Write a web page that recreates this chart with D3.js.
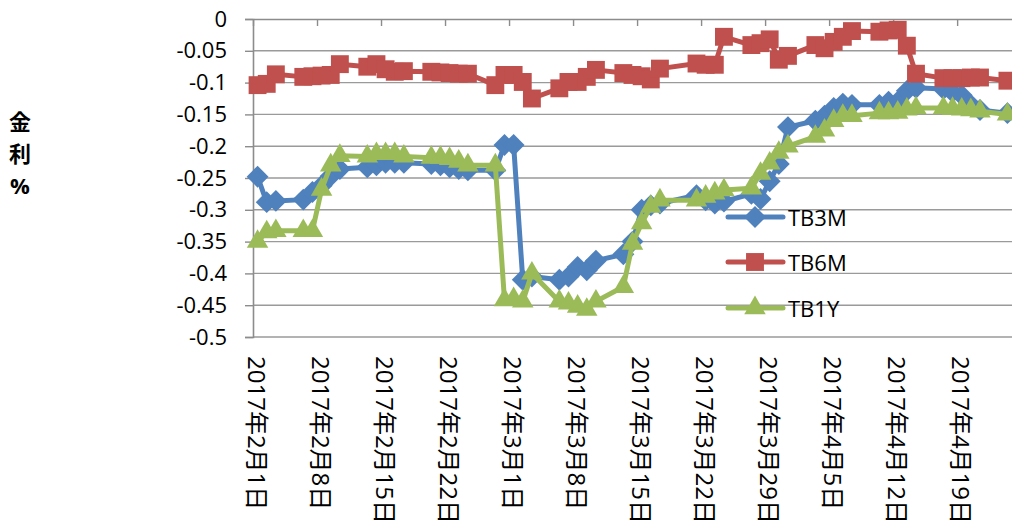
<!DOCTYPE html>
<html>
<head>
<meta charset="utf-8">
<script src="https://cdn.jsdelivr.net/npm/d3@7"></script>
<style>
  html, body { margin: 0; padding: 0; background: #fff; }
  svg { display: block; }
  text { font-family: "Open Sans", "Noto Sans CJK JP", sans-serif; fill: #000; }
</style>
</head>
<body>
<svg id="chart" width="1012" height="524"></svg>
<script>
const dates = ["2017-02-01","2017-02-02","2017-02-03","2017-02-06","2017-02-07","2017-02-08","2017-02-09","2017-02-10",
  "2017-02-13","2017-02-14","2017-02-15","2017-02-16","2017-02-17","2017-02-20","2017-02-21","2017-02-22","2017-02-23","2017-02-24",
  "2017-02-27","2017-02-28","2017-03-01","2017-03-02","2017-03-03","2017-03-06","2017-03-07","2017-03-08","2017-03-09","2017-03-10",
  "2017-03-13","2017-03-14","2017-03-15","2017-03-16","2017-03-17","2017-03-21","2017-03-22","2017-03-23","2017-03-24",
  "2017-03-27","2017-03-28","2017-03-29","2017-03-30","2017-03-31","2017-04-03","2017-04-04","2017-04-05","2017-04-06","2017-04-07",
  "2017-04-10","2017-04-11","2017-04-12","2017-04-13","2017-04-14","2017-04-17","2017-04-18","2017-04-19","2017-04-20","2017-04-21","2017-04-24"];

const seriesNames = ["TB3M", "TB6M", "TB1Y"];

const tb3m = [-0.248,-0.288,-0.286,-0.284,-0.272,-0.262,-0.247,-0.236,
  -0.233,-0.230,-0.226,-0.226,-0.226,-0.228,-0.230,-0.233,-0.236,-0.238,
  -0.238,-0.198,-0.198,-0.410,-0.405,-0.410,-0.405,-0.390,-0.395,-0.380,
  -0.370,-0.350,-0.300,-0.293,-0.290,-0.277,-0.285,-0.290,-0.287,
  -0.275,-0.283,-0.255,-0.228,-0.170,-0.160,-0.152,-0.140,-0.133,-0.135,
  -0.135,-0.130,-0.130,-0.113,-0.108,-0.110,-0.115,-0.120,-0.135,-0.143,-0.148];

const tb6m = [-0.104,-0.102,-0.087,-0.091,-0.090,-0.089,-0.088,-0.071,
  -0.075,-0.071,-0.079,-0.083,-0.082,-0.083,-0.084,-0.085,-0.086,-0.086,
  -0.104,-0.088,-0.088,-0.099,-0.125,-0.109,-0.099,-0.099,-0.091,-0.080,
  -0.085,-0.088,-0.090,-0.095,-0.078,-0.070,-0.072,-0.072,-0.028,
  -0.041,-0.038,-0.032,-0.064,-0.058,-0.041,-0.046,-0.036,-0.028,-0.019,
  -0.020,-0.018,-0.017,-0.042,-0.086,-0.093,-0.093,-0.093,-0.092,-0.092,-0.097];

const tb1y = [-0.350,-0.335,-0.333,-0.333,-0.333,-0.268,-0.230,-0.215,
  -0.216,-0.212,-0.212,-0.212,-0.216,-0.218,-0.218,-0.220,-0.224,-0.230,
  -0.230,-0.442,-0.440,-0.444,-0.400,-0.444,-0.447,-0.452,-0.457,-0.444,
  -0.421,-0.353,-0.321,-0.295,-0.285,-0.285,-0.279,-0.274,-0.269,
  -0.266,-0.243,-0.227,-0.210,-0.200,-0.185,-0.175,-0.160,-0.152,-0.152,
  -0.148,-0.148,-0.147,-0.142,-0.140,-0.140,-0.141,-0.142,-0.143,-0.145,-0.150];

const yTickValues = [0,-0.05,-0.1,-0.15,-0.2,-0.25,-0.3,-0.35,-0.4,-0.45,-0.5];
const yTickLabels = ["0","-0.05","-0.1","-0.15","-0.2","-0.25","-0.3","-0.35","-0.4","-0.45","-0.5"];
const xTickDates = ["2017-02-01","2017-02-08","2017-02-15","2017-02-22","2017-03-01","2017-03-08","2017-03-15",
  "2017-03-22","2017-03-29","2017-04-05","2017-04-12","2017-04-19"];
const xTickLabels = ["2017年2月1日","2017年2月8日","2017年2月15日","2017年2月22日","2017年3月1日","2017年3月8日",
  "2017年3月15日","2017年3月22日","2017年3月29日","2017年4月5日","2017年4月12日","2017年4月19日"];
const yTitle = ["金", "利", "%"];

const colors = ["#4F81BD", "#C0504D", "#9BBB59"];

// square diamond (equal diagonals)
const squareDiamond = {
  draw(ctx, size) {
    const r = Math.sqrt(size / 2);
    ctx.moveTo(0, -r); ctx.lineTo(r, 0); ctx.lineTo(0, r); ctx.lineTo(-r, 0); ctx.closePath();
  }
};
const symbols = [squareDiamond, d3.symbolSquare, d3.symbolTriangle];
const symSizes = [240, 320, 200];

const parse = d3.timeParse("%Y-%m-%d");
const svg = d3.select("#chart");
svg.append("rect").attr("width", 1012).attr("height", 524).attr("fill", "#fff");

const x = d3.scaleTime()
  .domain([parse("2017-02-01"), parse("2017-04-25")])
  .range([253, 1012]);
const y = d3.scaleLinear().domain([-0.5, 0]).range([337, 19]);
const mid = d => x(d3.timeHour.offset(parse(d), 12));

// gridlines
svg.append("g").selectAll("line")
  .data(yTickValues.filter(v => v !== 0))
  .join("line")
  .attr("x1", 253).attr("x2", 1012)
  .attr("y1", d => y(d)).attr("y2", d => y(d))
  .attr("stroke", "#9a9a9a").attr("stroke-width", 1.4);

// y axis
const yAxis = d3.axisLeft(y)
  .tickValues(yTickValues)
  .tickSize(8)
  .tickPadding(18)
  .tickFormat((d, i) => yTickLabels[i]);
const gy = svg.append("g").attr("transform", "translate(253,0)").call(yAxis);
gy.select(".domain").attr("stroke", "#8c8c8c").attr("stroke-width", 1.6);
gy.selectAll(".tick line").attr("stroke", "#8c8c8c").attr("stroke-width", 1.4);
gy.selectAll(".tick text").attr("font-size", 22).attr("font-family", "'Open Sans', sans-serif").attr("fill", "#000");

// x axis (at value 0, top)
const xAxis = d3.axisBottom(x)
  .tickValues(xTickDates.map(parse))
  .tickSize(7)
  .tickSizeOuter(0)
  .tickFormat("");
const gx = svg.append("g").attr("transform", `translate(0,${y(0)})`).call(xAxis);
gx.select(".domain").attr("stroke", "#8c8c8c").attr("stroke-width", 1.6);
gx.selectAll(".tick line").attr("stroke", "#8c8c8c").attr("stroke-width", 1.4);

// x labels (rotated, below plot)
svg.append("g").selectAll("text")
  .data(xTickDates)
  .join("text")
  .attr("transform", d => `translate(${mid(d)},356) rotate(90)`)
  .attr("text-anchor", "start")
  .attr("dominant-baseline", "central")
  .attr("font-size", 24)
  .text((d, i) => xTickLabels[i]);

// y title
svg.append("g").selectAll("text")
  .data(yTitle)
  .join("text")
  .attr("x", 20)
  .attr("y", (d, i) => 121 + i * 32)
  .attr("text-anchor", "middle")
  .attr("dominant-baseline", "central")
  .attr("font-size", 22)
  .attr("font-weight", 700)
  .attr("font-family", "'Open Sans', 'Noto Sans CJK JP', sans-serif")
  .text(d => d);

// series
const allSeries = [tb3m, tb6m, tb1y];
const line = d3.line().x(d => mid(d.date)).y(d => y(d.v));
allSeries.forEach((vals, si) => {
  const pts = dates.map((d, i) => ({ date: d, v: vals[i] }));
  const g = svg.append("g");
  g.append("path").datum(pts)
    .attr("d", line)
    .attr("fill", "none")
    .attr("stroke", colors[si])
    .attr("stroke-width", 5)
    .attr("stroke-linejoin", "round")
    .attr("stroke-linecap", "round");
  g.selectAll("path.m").data(pts).join("path")
    .attr("class", "m")
    .attr("d", d3.symbol().type(symbols[si]).size(symSizes[si]))
    .attr("transform", d => `translate(${mid(d.date)},${y(d.v)})`)
    .attr("fill", colors[si]);
});

// legend
const legendY = [217, 262, 308];
const lg = svg.append("g");
seriesNames.forEach((name, si) => {
  lg.append("line")
    .attr("x1", 728).attr("x2", 783)
    .attr("y1", legendY[si]).attr("y2", legendY[si])
    .attr("stroke", colors[si]).attr("stroke-width", 5)
    .attr("stroke-linecap", "round");
  lg.append("path")
    .attr("d", d3.symbol().type(symbols[si]).size(symSizes[si])())
    .attr("transform", `translate(755,${legendY[si]})`)
    .attr("fill", colors[si]);
  lg.append("text")
    .attr("x", 788).attr("y", legendY[si])
    .attr("dominant-baseline", "central")
    .attr("font-size", 22)
    .text(name);
});
</script>
</body>
</html>
